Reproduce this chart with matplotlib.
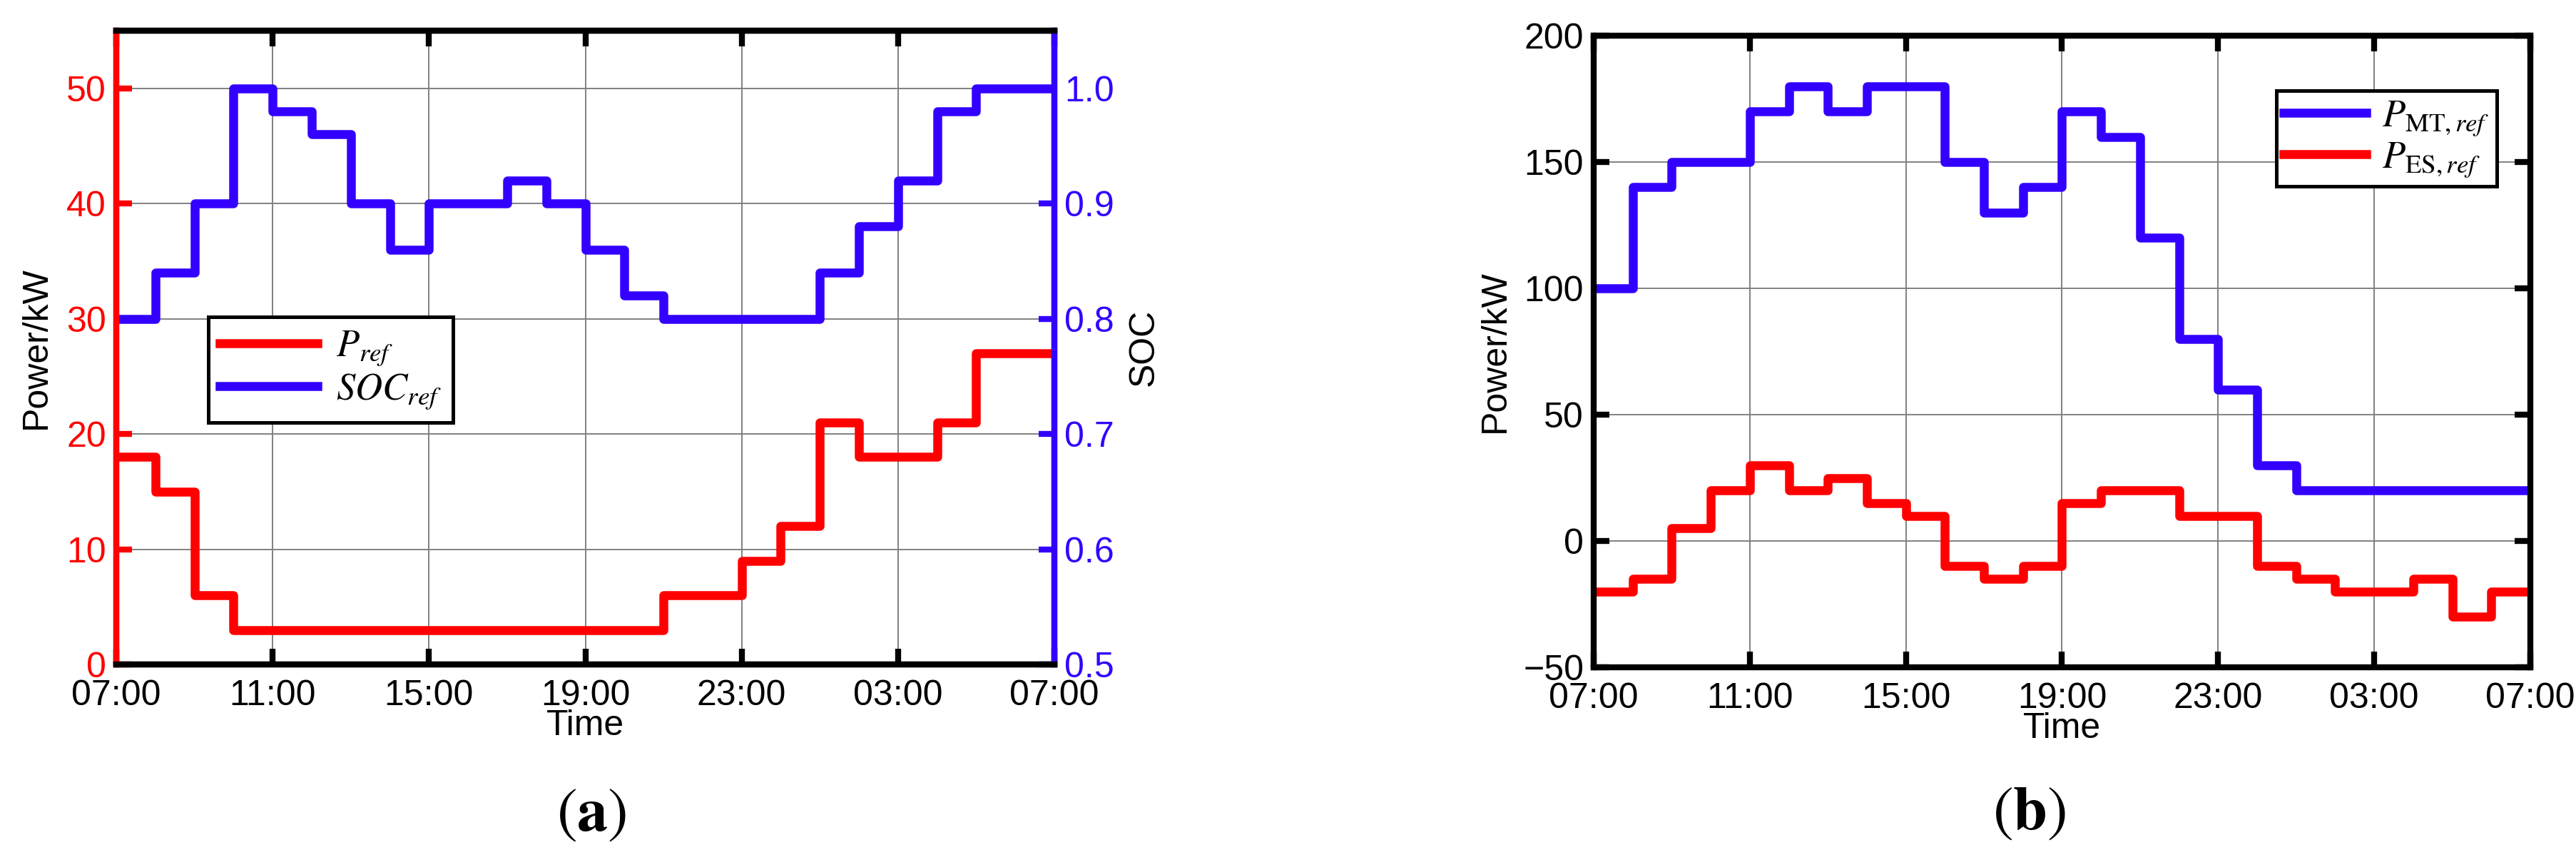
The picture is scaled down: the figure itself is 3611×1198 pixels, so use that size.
import numpy as np
import matplotlib
matplotlib.use("Agg")
import matplotlib.pyplot as plt

plt.rcParams["font.family"] = ["Liberation Sans", "DejaVu Sans"]
plt.rcParams["mathtext.fontset"] = "stix"

# hourly schedule, 07:00 -> 07:00 next day
tick_hours = [0, 4, 8, 12, 16, 20, 24]
tick_labels = ["07:00", "11:00", "15:00", "19:00", "23:00", "03:00", "07:00"]

p_ref = [18, 15, 6, 3, 3, 3, 3, 3, 3, 3, 3, 3, 3, 3,
         6, 6, 9, 12, 21, 18, 18, 21, 27, 27]
soc_ref = [0.80, 0.84, 0.90, 1.00, 0.98, 0.96, 0.90, 0.86, 0.90, 0.90,
           0.92, 0.90, 0.86, 0.82, 0.80, 0.80, 0.80, 0.80, 0.84, 0.88,
           0.92, 0.98, 1.00, 1.00]

p_mt = [100, 140, 150, 150, 170, 180, 170, 180, 180, 150, 130, 140,
        170, 160, 120, 80, 60, 30, 20, 20, 20, 20, 20, 20]
p_es = [-20, -15, 5, 20, 30, 20, 25, 15, 10, -10, -15, -10,
        15, 20, 20, 10, 10, -10, -15, -20, -20, -15, -30, -20]

RED = "#FF0000"
BLUE = "#3300FF"
LW = 9
FS = 36


def stairs(vals):
    x = np.arange(len(vals) + 1)
    y = np.append(vals, vals[-1])
    return x, y


def style_axes(ax):
    for s in ax.spines.values():
        s.set_linewidth(6)
        s.set_color("black")
    ax.set_xlim(0, 24)
    ax.set_xticks(tick_hours, tick_labels)
    ax.tick_params(axis="x", direction="in", length=16, width=6, top=True,
                   labelsize=FS, pad=15, colors="black")
    ax.grid(True, color="#808080", linewidth=1.4)
    ax.set_axisbelow(True)


def lift_ylabels(ax):
    # labels sit a little above their tick, as in the original
    for lab in ax.get_yticklabels():
        lab.set_verticalalignment("center_baseline")


fig = plt.figure(figsize=(36.12, 11.98), dpi=100)

# (a)
ax1 = fig.add_axes([0.04513, 0.22287, 0.36406, 0.74124])
style_axes(ax1)
x, y = stairs(p_ref)
l1, = ax1.plot(x, y, drawstyle="steps-post", color=RED, lw=LW,
               solid_joinstyle="round", label=r"$P_{ref}$")
ax1.set_ylim(0, 55)
ax1.set_yticks(range(0, 51, 10))
ax1.tick_params(axis="y", direction="in", length=16, width=6, colors=RED,
                labelsize=FS, pad=10)
ax1.set_ylabel("Power/kW", fontsize=FS, labelpad=14)
ax1.set_xlabel("Time", fontsize=FS, labelpad=-3)
lift_ylabels(ax1)

ax2 = ax1.twinx()
x, y = stairs(soc_ref)
l2, = ax2.plot(x, y, drawstyle="steps-post", color=BLUE, lw=LW,
               solid_joinstyle="round", label=r"$SOC_{ref}$")
ax2.set_ylim(0.5, 1.05)
soc_ticks = [0.5, 0.6, 0.7, 0.8, 0.9, 1.0]
ax2.set_yticks(soc_ticks, ["%.1f" % t for t in soc_ticks])
ax2.tick_params(axis="y", direction="in", length=16, width=6, colors=BLUE,
                labelsize=FS, pad=10)
ax2.set_ylabel("SOC", fontsize=FS, labelpad=14)
lift_ylabels(ax2)
for ax in (ax1, ax2):
    for s in ax.spines.values():
        s.set_linewidth(6)
        s.set_color("black")
    ax.spines["left"].set_color(RED)
    ax.spines["right"].set_color(BLUE)

leg = ax2.legend(handles=[l1, l2], loc="upper left",
                 bbox_to_anchor=(0.098, 0.548), bbox_transform=ax1.transAxes,
                 fontsize=FS + 2, fancybox=False, edgecolor="black",
                 framealpha=1, borderaxespad=0, handlelength=2.6,
                 handletextpad=0.5, borderpad=0.3, labelspacing=0.1)
leg.get_frame().set_linewidth(3.6)

# (b)
ax3 = fig.add_axes([0.61849, 0.21953, 0.36351, 0.73873])
style_axes(ax3)
x, y = stairs(p_mt)
ax3.plot(x, y, drawstyle="steps-post", color=BLUE, lw=LW,
         solid_joinstyle="round", label=r"$P_{\mathrm{MT},ref}$")
x, y = stairs(p_es)
ax3.plot(x, y, drawstyle="steps-post", color=RED, lw=LW,
         solid_joinstyle="round", label=r"$P_{\mathrm{ES},ref}$")
ax3.set_ylim(-50, 200)
ax3.set_yticks(range(-50, 201, 50))
ax3.tick_params(axis="y", direction="in", length=16, width=6, right=True,
                labelsize=FS, pad=10)
ax3.set_ylabel("Power/kW", fontsize=FS, labelpad=12)
ax3.set_xlabel("Time", fontsize=FS, labelpad=-3)
lift_ylabels(ax3)
leg = ax3.legend(loc="upper right", bbox_to_anchor=(0.964, 0.913),
                 fontsize=FS + 2, fancybox=False, edgecolor="black",
                 framealpha=1, borderaxespad=0, handlelength=2.2,
                 handletextpad=0.4, borderpad=0.2, labelspacing=0.05)
leg.get_frame().set_linewidth(3.6)

fig.text(829 / 3612, 1 - 1142 / 1198, r"$(\mathbf{a})$", ha="center",
         va="center", fontsize=62)
fig.text(2845 / 3612, 1 - 1140 / 1198, r"$(\mathbf{b})$", ha="center",
         va="center", fontsize=62)

fig.savefig("out.png", dpi=100)
